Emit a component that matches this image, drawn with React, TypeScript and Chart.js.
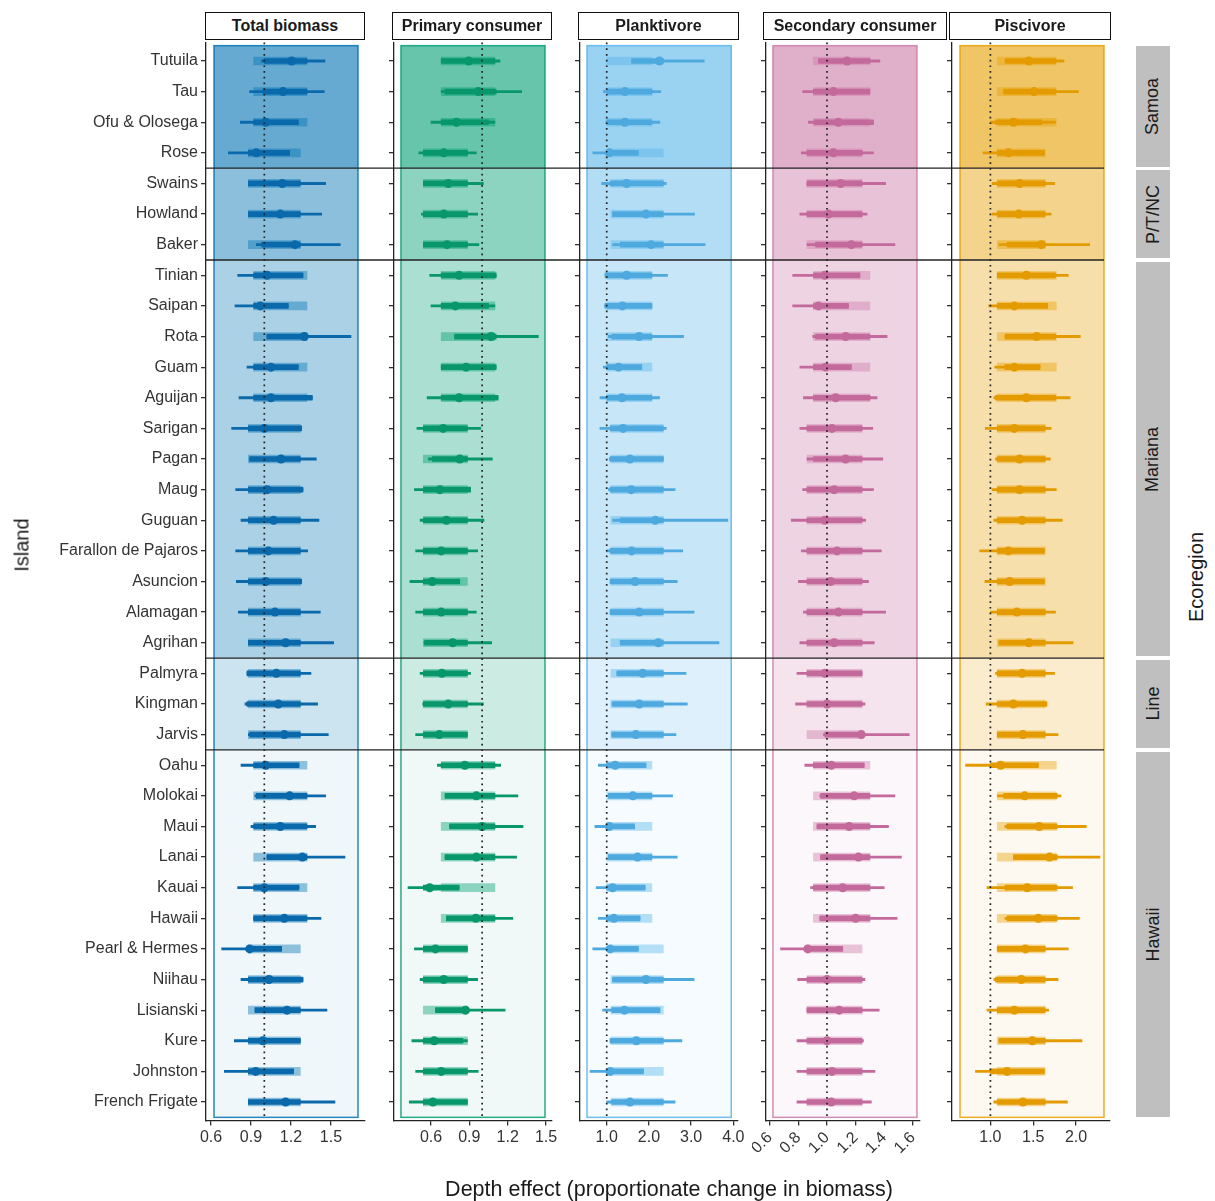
import React, { useEffect, useRef } from "react";
import { Chart, registerables } from "chart.js";

Chart.register(...registerables);

const FONT = '"Liberation Sans", Arial, Helvetica, sans-serif';
Chart.defaults.font.family = FONT;

// ---------------- DATA ----------------
const islands = [
  "Tutuila", "Tau", "Ofu & Olosega", "Rose", "Swains", "Howland", "Baker",
  "Tinian", "Saipan", "Rota", "Guam", "Aguijan", "Sarigan", "Pagan", "Maug",
  "Guguan", "Farallon de Pajaros", "Asuncion", "Alamagan", "Agrihan",
  "Palmyra", "Kingman", "Jarvis", "Oahu", "Molokai", "Maui", "Lanai", "Kauai",
  "Hawaii", "Pearl & Hermes", "Niihau", "Lisianski", "Kure", "Johnston",
  "French Frigate",
];

const ecoregions = ["Samoa", "P/T/NC", "Mariana", "Line", "Hawaii"];
const ecoregionFirst = [0, 4, 7, 20, 23];
const ecoregionLast = [3, 6, 19, 22, 34];

// islands sharing the "populated" group-level interval (light band)
const populated = [
  1, 1, 1, 0, 0, 0, 0, 1, 1, 1, 1, 1, 0, 0, 0, 0, 0, 0, 0, 0, 0, 0, 0,
  1, 1, 1, 1, 1, 1, 0, 0, 0, 0, 0, 0,
];

// Total biomass
const totalMedian = [1.205, 1.14, 1.01, 0.94, 1.135, 1.12, 1.23, 1.02, 0.97, 1.3, 1.05, 1.05, 1.0, 1.125, 1.02, 1.07, 1.03, 1.01, 1.08, 1.16, 1.09, 1.105, 1.15, 1.01, 1.19, 1.12, 1.285, 1.0, 1.15, 0.89, 1.035, 1.17, 0.99, 0.935, 1.16];
const totalOuter = [[0.98, 1.455], [0.89, 1.45], [0.82, 1.255], [0.73, 1.19], [0.88, 1.46], [0.88, 1.43], [0.94, 1.57], [0.8, 1.29], [0.78, 1.18], [1.02, 1.65], [0.87, 1.255], [0.81, 1.36], [0.755, 1.28], [0.89, 1.39], [0.785, 1.29], [0.825, 1.41], [0.785, 1.325], [0.79, 1.28], [0.805, 1.42], [0.88, 1.52], [0.87, 1.35], [0.855, 1.4], [0.88, 1.48], [0.825, 1.26], [0.93, 1.46], [0.9, 1.385], [1.02, 1.605], [0.8, 1.26], [0.92, 1.425], [0.68, 1.13], [0.825, 1.29], [0.93, 1.47], [0.775, 1.27], [0.7, 1.22], [0.88, 1.53]];
const totalInner = [[1.0, 1.32], [0.99, 1.32], [0.92, 1.255], [0.88, 1.19], [0.88, 1.27], [0.88, 1.27], [0.98, 1.27], [0.92, 1.29], [0.92, 1.18], [1.02, 1.32], [0.92, 1.255], [0.92, 1.36], [0.88, 1.28], [0.89, 1.27], [0.88, 1.29], [0.88, 1.27], [0.88, 1.27], [0.88, 1.28], [0.88, 1.27], [0.88, 1.27], [0.87, 1.27], [0.87, 1.27], [0.89, 1.27], [0.92, 1.26], [0.94, 1.32], [0.92, 1.32], [1.02, 1.32], [0.92, 1.26], [0.92, 1.32], [0.88, 1.13], [0.88, 1.29], [0.93, 1.27], [0.88, 1.27], [0.88, 1.22], [0.88, 1.27]];
const totalBandPopulated = [0.92, 1.32];
const totalBandRemote = [0.88, 1.27];
const totalTicks = [0.6, 0.9, 1.2, 1.5];

// Primary consumer
const primaryMedian = [0.895, 0.97, 0.8, 0.7, 0.735, 0.7, 0.725, 0.82, 0.79, 1.07, 0.875, 0.82, 0.695, 0.825, 0.67, 0.72, 0.68, 0.61, 0.68, 0.77, 0.685, 0.735, 0.665, 0.865, 0.955, 1.0, 0.955, 0.59, 0.95, 0.635, 0.7, 0.87, 0.625, 0.68, 0.615];
const primaryOuter = [[0.68, 1.14], [0.68, 1.31], [0.6, 1.1], [0.505, 0.955], [0.54, 1.01], [0.525, 0.965], [0.54, 0.975], [0.59, 1.11], [0.6, 1.1], [0.785, 1.44], [0.68, 1.11], [0.57, 1.125], [0.49, 0.99], [0.58, 1.08], [0.47, 0.91], [0.515, 1.015], [0.48, 0.965], [0.435, 0.825], [0.48, 0.955], [0.545, 1.075], [0.515, 0.91], [0.535, 1.01], [0.48, 0.885], [0.65, 1.145], [0.71, 1.28], [0.745, 1.32], [0.71, 1.27], [0.42, 0.82], [0.72, 1.24], [0.47, 0.885], [0.515, 0.965], [0.635, 1.18], [0.45, 0.885], [0.48, 0.97], [0.43, 0.885]];
const primaryInner = [[0.68, 1.1], [0.71, 1.11], [0.68, 1.05], [0.54, 0.885], [0.54, 0.885], [0.54, 0.885], [0.54, 0.885], [0.68, 1.11], [0.68, 1.05], [0.785, 1.11], [0.68, 1.11], [0.68, 1.125], [0.54, 0.885], [0.61, 0.885], [0.54, 0.91], [0.54, 0.885], [0.54, 0.885], [0.54, 0.825], [0.54, 0.885], [0.55, 0.885], [0.54, 0.885], [0.54, 0.885], [0.54, 0.885], [0.68, 1.1], [0.71, 1.1], [0.745, 1.1], [0.71, 1.1], [0.54, 0.82], [0.72, 1.1], [0.54, 0.885], [0.54, 0.885], [0.635, 0.885], [0.54, 0.85], [0.54, 0.885], [0.54, 0.885]];
const primaryBandPopulated = [0.68, 1.1];
const primaryBandRemote = [0.54, 0.885];
const primaryTicks = [0.6, 0.9, 1.2, 1.5];

// Planktivore
const plankMedian = [2.25, 1.43, 1.43, 1.06, 1.47, 1.93, 2.05, 1.47, 1.37, 1.77, 1.28, 1.36, 1.39, 1.55, 1.58, 2.15, 1.59, 1.67, 1.77, 2.22, 1.85, 1.77, 1.69, 1.2, 1.62, 1.06, 1.73, 1.14, 1.17, 1.08, 1.93, 1.42, 1.7, 1.08, 1.55];
const plankOuter = [[1.59, 3.31], [0.92, 2.28], [0.98, 2.26], [0.67, 1.75], [0.88, 2.41], [1.14, 3.08], [1.14, 3.33], [0.96, 2.44], [0.945, 2.07], [1.04, 2.82], [0.92, 1.83], [0.84, 2.25], [0.84, 2.41], [1.06, 2.34], [1.04, 2.62], [1.14, 3.87], [1.0, 2.8], [1.08, 2.67], [1.08, 3.07], [1.32, 3.66], [1.24, 2.88], [1.12, 2.91], [1.12, 2.64], [0.8, 1.93], [1.04, 2.56], [0.72, 1.66], [1.04, 2.67], [0.75, 1.91], [0.8, 1.79], [0.67, 1.75], [1.14, 3.07], [0.905, 2.26], [1.08, 2.78], [0.605, 1.87], [1.0, 2.62]];
const plankInner = [[1.59, 2.34], [1.0, 2.07], [1.0, 2.07], [1.0, 1.75], [1.08, 2.34], [1.14, 2.34], [1.32, 2.34], [0.96, 2.07], [0.96, 2.07], [1.12, 2.07], [1.0, 1.83], [1.0, 2.07], [1.08, 2.34], [1.08, 2.34], [1.08, 2.34], [1.32, 2.34], [1.08, 2.34], [1.08, 2.34], [1.08, 2.34], [1.32, 2.34], [1.24, 2.34], [1.14, 2.34], [1.12, 2.34], [1.0, 1.93], [1.04, 2.07], [1.0, 1.66], [1.04, 2.07], [1.0, 1.91], [1.0, 1.79], [1.0, 1.75], [1.14, 2.34], [1.12, 2.26], [1.08, 2.34], [1.0, 1.87], [1.12, 2.34]];
const plankBandPopulated = [1.0, 2.07];
const plankBandRemote = [1.1, 2.34];
const plankTicks = [1, 2, 3, 4];

// Secondary consumer
const secMedian = [1.14, 1.045, 1.08, 1.045, 1.095, 1.01, 1.17, 0.985, 0.94, 1.13, 0.99, 1.06, 1.035, 1.13, 1.05, 0.985, 1.07, 1.025, 1.08, 1.05, 0.985, 1.0, 1.24, 1.03, 1.19, 1.155, 1.22, 1.11, 1.2, 0.865, 1.0, 1.085, 1.0, 1.035, 1.03];
const secOuter = [[0.94, 1.37], [0.83, 1.3], [0.87, 1.325], [0.82, 1.325], [0.86, 1.41], [0.81, 1.28], [0.86, 1.475], [0.76, 1.23], [0.76, 1.15], [0.9, 1.42], [0.81, 1.17], [0.835, 1.35], [0.81, 1.32], [0.86, 1.39], [0.83, 1.325], [0.75, 1.27], [0.82, 1.38], [0.8, 1.29], [0.835, 1.41], [0.81, 1.33], [0.79, 1.245], [0.78, 1.265], [0.975, 1.575], [0.845, 1.26], [0.95, 1.475], [0.93, 1.43], [0.955, 1.52], [0.885, 1.4], [0.95, 1.49], [0.675, 1.11], [0.795, 1.265], [0.86, 1.365], [0.79, 1.255], [0.79, 1.335], [0.79, 1.31]];
const secInner = [[0.94, 1.3], [0.905, 1.3], [0.91, 1.325], [0.86, 1.245], [0.86, 1.245], [0.86, 1.245], [0.92, 1.245], [0.905, 1.23], [0.905, 1.15], [0.92, 1.3], [0.905, 1.17], [0.905, 1.3], [0.86, 1.245], [0.905, 1.245], [0.86, 1.245], [0.86, 1.245], [0.86, 1.245], [0.86, 1.245], [0.86, 1.245], [0.86, 1.245], [0.86, 1.245], [0.86, 1.245], [0.985, 1.245], [0.905, 1.26], [0.955, 1.3], [0.93, 1.3], [0.955, 1.3], [0.905, 1.3], [0.95, 1.3], [0.86, 1.11], [0.86, 1.245], [0.86, 1.245], [0.86, 1.245], [0.86, 1.245], [0.86, 1.245]];
const secBandPopulated = [0.905, 1.3];
const secBandRemote = [0.86, 1.245];
const secTicks = [0.6, 0.8, 1.0, 1.2, 1.4, 1.6];

// Piscivore
const piscMedian = [1.45, 1.51, 1.27, 1.21, 1.34, 1.33, 1.595, 1.42, 1.28, 1.54, 1.28, 1.42, 1.28, 1.34, 1.34, 1.37, 1.21, 1.225, 1.31, 1.45, 1.37, 1.27, 1.38, 1.12, 1.4, 1.57, 1.69, 1.43, 1.56, 1.41, 1.36, 1.28, 1.49, 1.195, 1.38];
const piscOuter = [[1.17, 1.86], [1.155, 2.03], [1.0, 1.76], [0.915, 1.63], [1.02, 1.75], [1.02, 1.71], [1.1, 2.16], [1.08, 1.91], [0.98, 1.67], [1.17, 2.05], [1.05, 1.58], [1.04, 1.93], [0.94, 1.71], [1.06, 1.7], [1.02, 1.77], [1.04, 1.84], [0.875, 1.63], [0.935, 1.63], [1.0, 1.76], [1.1, 1.965], [1.06, 1.75], [0.95, 1.66], [1.08, 1.79], [0.71, 1.56], [1.08, 1.825], [1.17, 2.12], [1.27, 2.28], [0.96, 1.96], [1.17, 2.04], [1.08, 1.91], [1.04, 1.79], [0.96, 1.68], [1.1, 2.07], [0.825, 1.63], [1.04, 1.9]];
const piscInner = [[1.175, 1.76], [1.155, 1.76], [1.06, 1.6], [1.08, 1.63], [1.08, 1.64], [1.08, 1.64], [1.195, 1.64], [1.08, 1.76], [1.08, 1.67], [1.17, 1.76], [1.17, 1.58], [1.06, 1.76], [1.08, 1.64], [1.08, 1.64], [1.08, 1.64], [1.08, 1.64], [1.08, 1.63], [1.08, 1.63], [1.08, 1.64], [1.1, 1.64], [1.08, 1.64], [1.08, 1.66], [1.08, 1.64], [1.0, 1.56], [1.155, 1.78], [1.195, 1.78], [1.27, 1.78], [1.17, 1.78], [1.195, 1.78], [1.08, 1.64], [1.06, 1.64], [1.08, 1.64], [1.1, 1.64], [1.0, 1.63], [1.08, 1.64]];
const piscBandPopulated = [1.08, 1.77];
const piscBandRemote = [1.08, 1.64];
const piscTicks = [1.0, 1.5, 2.0];

// ---------------- LAYOUT / STYLE ----------------
const CANVAS_H = 1201;
const Y_TOP = 42.6;
const Y_BOTTOM = 1120.4;
const Y_MIN = -0.6;
const Y_MAX = islands.length - 1 + 0.6;
const shade = [0.6, 0.45, 0.33, 0.2, 0.06];

type Panel = {
  title: string;
  median: number[];
  outer: number[][];
  inner: number[][];
  bandPop: number[];
  bandRemote: number[];
  ticks: number[];
  xMin: number;
  xMax: number;
  rectMin: number;
  rectMax: number;
  base: number[];
  mark: string;
  canvasLeft: number;
  canvasWidth: number;
  axisWidth: number;
  padRight: number;
  labels: boolean;
  rotate: number;
  headerLeft: number;
  headerWidth: number;
};

const panels: Panel[] = [
  {
    title: "Total biomass", median: totalMedian, outer: totalOuter, inner: totalInner,
    bandPop: totalBandPopulated, bandRemote: totalBandRemote, ticks: totalTicks,
    xMin: 0.5625, xMax: 1.7553, rectMin: 0.6225, rectMax: 1.7028,
    base: [0, 114, 178], mark: "#0a69ab",
    canvasLeft: 0, canvasWidth: 380, axisWidth: 206, padRight: 15, labels: true, rotate: 0,
    headerLeft: 205, headerWidth: 160,
  },
  {
    title: "Primary consumer", median: primaryMedian, outer: primaryOuter, inner: primaryInner,
    bandPop: primaryBandPopulated, bandRemote: primaryBandRemote, ticks: primaryTicks,
    xMin: 0.3105, xMax: 1.5468, rectMin: 0.365, rectMax: 1.492,
    base: [0, 158, 115], mark: "#08976b",
    canvasLeft: 380, canvasWidth: 186, axisWidth: 14, padRight: 14, labels: false, rotate: 0,
    headerLeft: 392, headerWidth: 160,
  },
  {
    title: "Planktivore", median: plankMedian, outer: plankOuter, inner: plankInner,
    bandPop: plankBandPopulated, bandRemote: plankBandRemote, ticks: plankTicks,
    xMin: 0.367, xMax: 4.11, rectMin: 0.533, rectMax: 3.95,
    base: [86, 180, 233], mark: "#4ea9df",
    canvasLeft: 566, canvasWidth: 186, axisWidth: 14, padRight: 14, labels: false, rotate: 0,
    headerLeft: 578, headerWidth: 161,
  },
  {
    title: "Secondary consumer", median: secMedian, outer: secOuter, inner: secInner,
    bandPop: secBandPopulated, bandRemote: secBandRemote, ticks: secTicks,
    xMin: 0.5734, xMax: 1.6503, rectMin: 0.622, rectMax: 1.629,
    base: [204, 121, 167], mark: "#c4699c",
    canvasLeft: 752, canvasWidth: 186, axisWidth: 14, padRight: 18, labels: false, rotate: 45,
    headerLeft: 763, headerWidth: 184,
  },
  {
    title: "Piscivore", median: piscMedian, outer: piscOuter, inner: piscInner,
    bandPop: piscBandPopulated, bandRemote: piscBandRemote, ticks: piscTicks,
    xMin: 0.5514, xMax: 2.3972, rectMin: 0.645, rectMax: 2.327,
    base: [230, 159, 0], mark: "#e39b00",
    canvasLeft: 938, canvasWidth: 180, axisWidth: 14, padRight: 8, labels: false, rotate: 0,
    headerLeft: 949, headerWidth: 162,
  },
];

function rowPx(v: number) {
  return Y_TOP + ((v - Y_MIN) / (Y_MAX - Y_MIN)) * (Y_BOTTOM - Y_TOP);
}

function PanelChart({ p, index }: { p: Panel; index: number }) {
  const ref = useRef<HTMLCanvasElement | null>(null);

  useEffect(() => {
    const canvas = ref.current;
    if (!canvas) return;
    const rgba = (a: number) => `rgba(${p.base[0]},${p.base[1]},${p.base[2]},${a})`;
    const isLast = index === panels.length - 1;

    const bandData = islands.map((_, i) => ({ y: i, x: populated[i] ? p.bandPop : p.bandRemote }));
    const outerData = islands.map((_, i) => ({ y: i, x: p.outer[i] }));
    const innerData = islands.map((_, i) => ({ y: i, x: p.inner[i] }));
    const medianData = islands.map((_, i) => ({ y: i, x: p.median[i] }));

    const panelPlugin = {
      id: "panelDecor",
      beforeDatasetsDraw(chart: any) {
        const { ctx } = chart;
        const x = chart.scales.x;
        const y = chart.scales.y;
        const x0 = x.getPixelForValue(p.rectMin);
        const x1 = x.getPixelForValue(p.rectMax);
        ctx.save();
        ecoregions.forEach((_, k) => {
          const y0 = y.getPixelForValue(ecoregionFirst[k] - 0.5);
          const y1 = y.getPixelForValue(ecoregionLast[k] + 0.5);
          ctx.fillStyle = rgba(shade[k]);
          ctx.fillRect(x0, y0, x1 - x0, y1 - y0);
        });
        const yt = y.getPixelForValue(-0.5);
        const yb = y.getPixelForValue(islands.length - 0.5);
        ctx.strokeStyle = rgba(0.85);
        ctx.lineWidth = 1.5;
        ctx.strokeRect(x0, yt, x1 - x0, yb - yt);
        ctx.restore();
      },
      afterDatasetsDraw(chart: any) {
        const { ctx, chartArea } = chart;
        const x = chart.scales.x;
        const y = chart.scales.y;
        ctx.save();
        const xr = x.getPixelForValue(1);
        ctx.strokeStyle = "#222";
        ctx.lineWidth = 1.7;
        ctx.setLineDash([1.7, 4]);
        ctx.beginPath();
        ctx.moveTo(xr, chartArea.top);
        ctx.lineTo(xr, chartArea.bottom);
        ctx.stroke();
        ctx.setLineDash([]);
        const left = index === 0 ? chartArea.left : 0;
        const right = isLast ? x.getPixelForValue(p.rectMax) : chart.width;
        ctx.strokeStyle = "#222";
        ctx.lineWidth = 1.3;
        for (let k = 1; k < ecoregions.length; k++) {
          const yy = y.getPixelForValue(ecoregionFirst[k] - 0.5);
          ctx.beginPath();
          ctx.moveTo(left, yy);
          ctx.lineTo(right, yy);
          ctx.stroke();
        }
        ctx.restore();
      },
    };

    const chart = new Chart(canvas, {
      type: "bar",
      data: {
        datasets: [
          {
            type: "bar",
            data: bandData as any,
            backgroundColor: rgba(0.42),
            borderWidth: 0,
            barThickness: 8,
            grouped: false,
            order: 4,
          } as any,
          {
            type: "bar",
            data: outerData as any,
            backgroundColor: p.mark,
            borderWidth: 0,
            barThickness: 2.2,
            grouped: false,
            order: 3,
          } as any,
          {
            type: "bar",
            data: innerData as any,
            backgroundColor: p.mark,
            borderWidth: 0,
            barThickness: 5,
            grouped: false,
            order: 2,
          } as any,
          {
            type: "scatter",
            data: medianData as any,
            backgroundColor: p.mark,
            borderWidth: 0,
            pointRadius: 4.5,
            order: 1,
          } as any,
        ],
      },
      options: {
        indexAxis: "y",
        responsive: false,
        animation: false,
        devicePixelRatio: 1,
        events: [],
        layout: {
          autoPadding: false,
          padding: { left: 0, right: p.padRight, top: Y_TOP, bottom: 0 },
        },
        plugins: {
          legend: { display: false },
          tooltip: { enabled: false },
          title: { display: false },
        },
        scales: {
          x: {
            type: "linear",
            position: "bottom",
            min: p.xMin,
            max: p.xMax,
            offset: false,
            afterBuildTicks: (s: any) => {
              s.ticks = p.ticks.map((v) => ({ value: v }));
            },
            afterFit: (s: any) => {
              s.height = CANVAS_H - Y_BOTTOM;
              s.paddingLeft = 0;
              s.paddingRight = 0;
            },
            ticks: {
              autoSkip: false,
              minRotation: p.rotate,
              maxRotation: p.rotate,
              padding: 3,
              color: "#333",
              font: { size: 16 },
              callback: (v: any) => Number(v).toFixed(1),
            },
            grid: { drawOnChartArea: false, drawTicks: true, tickLength: 5, color: "#333", lineWidth: 1.3, offset: false },
            border: { display: true, color: "#222", width: 1.3 },
          },
          y: {
            type: "linear",
            min: Y_MIN,
            max: Y_MAX,
            reverse: true,
            offset: false,
            afterBuildTicks: (s: any) => {
              s.ticks = islands.map((_, i) => ({ value: i }));
            },
            afterFit: (s: any) => {
              s.width = p.axisWidth;
              s.paddingTop = 0;
              s.paddingBottom = 0;
            },
            ticks: {
              autoSkip: false,
              padding: 3,
              color: "#333",
              font: { size: 16 },
              callback: (v: any) => (p.labels ? islands[Math.round(Number(v))] : ""),
            },
            grid: { drawOnChartArea: false, drawTicks: true, tickLength: 5, color: "#333", lineWidth: 1.3, offset: false },
            border: { display: true, color: "#222", width: 1.3 },
          },
        },
      } as any,
      plugins: [panelPlugin],
    });

    return () => chart.destroy();
  }, [p, index]);

  return (
    <canvas
      ref={ref}
      width={p.canvasWidth}
      height={CANVAS_H}
      style={{ position: "absolute", left: p.canvasLeft, top: 0, width: p.canvasWidth, height: CANVAS_H }}
    />
  );
}

export default function App() {
  return (
    <div
      style={{
        position: "absolute",
        left: 0,
        top: 0,
        width: 1215,
        height: 1201,
        background: "#fff",
        overflow: "hidden",
        fontFamily: FONT,
        color: "#1a1a1a",
      }}
    >
      {panels.map((p, i) => (
        <PanelChart key={p.title} p={p} index={i} />
      ))}

      {panels.map((p) => (
        <div
          key={"h" + p.title}
          style={{
            position: "absolute",
            left: p.headerLeft,
            top: 12,
            width: p.headerWidth,
            height: 28,
            boxSizing: "border-box",
            border: "1.6px solid #111",
            background: "#fff",
            display: "flex",
            alignItems: "center",
            justifyContent: "center",
            fontWeight: "bold",
            fontSize: 16,
            whiteSpace: "nowrap",
          }}
        >
          {p.title}
        </div>
      ))}

      {ecoregions.map((name, k) => {
        const top = rowPx(ecoregionFirst[k] - 0.5) + (k === 0 ? 0 : 1.6);
        const bottom = rowPx(ecoregionLast[k] + 0.5) - (k === ecoregions.length - 1 ? 0 : 1.6);
        return (
          <div
            key={"s" + name}
            style={{
              position: "absolute",
              left: 1136,
              top,
              width: 34,
              height: bottom - top,
              background: "#bfbfbf",
              display: "flex",
              alignItems: "center",
              justifyContent: "center",
            }}
          >
            <span style={{ transform: "rotate(-90deg)", whiteSpace: "nowrap", fontSize: 18, color: "#1a1a1a" }}>
              {name}
            </span>
          </div>
        );
      })}

      <div
        style={{
          position: "absolute",
          left: 22,
          top: 545,
          transform: "translate(-50%, -50%) rotate(-90deg)",
          fontSize: 20,
          whiteSpace: "nowrap",
        }}
      >
        Island
      </div>
      <div
        style={{
          position: "absolute",
          left: 1196,
          top: 577,
          transform: "translate(-50%, -50%) rotate(-90deg)",
          fontSize: 20,
          whiteSpace: "nowrap",
        }}
      >
        Ecoregion
      </div>
      <div
        style={{
          position: "absolute",
          left: 669,
          top: 1189,
          transform: "translate(-50%, -50%)",
          fontSize: 21.5,
          whiteSpace: "nowrap",
        }}
      >
        Depth effect (proportionate change in biomass)
      </div>
    </div>
  );
}
